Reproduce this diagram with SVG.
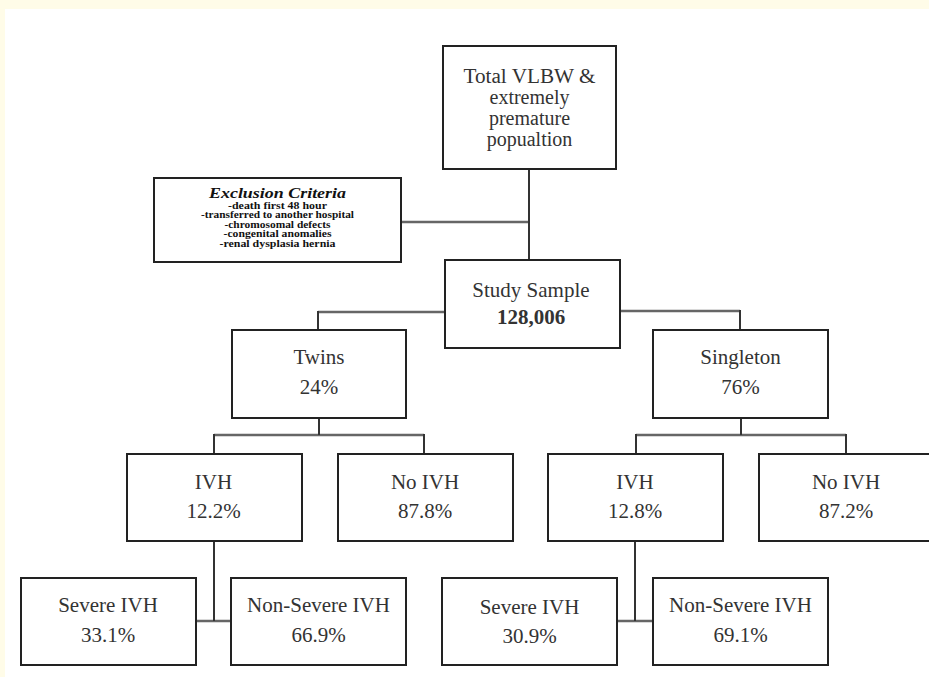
<svg xmlns="http://www.w3.org/2000/svg" width="929" height="677" viewBox="0 0 929 677">
<style>
.box{fill:#fff;stroke:#222;stroke-width:2}
.t{font-size:21px;fill:#333;text-anchor:middle}
.tt{font-size:20px;fill:#333;text-anchor:middle}
.b{font-weight:bold}
.ex{font-weight:bold;font-size:9.5px;fill:#111;text-anchor:middle}
.exh{font-weight:bold;font-style:italic;font-size:15px;fill:#111;text-anchor:middle}
.c{fill:none;stroke:#333;stroke-width:2}
.h{fill:none;stroke:#666;stroke-width:2.5}
</style>
<rect x="0" y="0" width="929" height="677" fill="#fffce8"/>
<rect x="5" y="9" width="924" height="668" fill="#fff"/>
<g id="connectors">
<path class="h" d="M401 222H529M445 312H318M620 311H740M214 435H424M636 435H846M196 621H231M617 621H653"/>
<path class="c" d="M529 169V260M318 311V330M740 310V330M319 418V435M214 434V454M424 434V454M741 418V435M636 434V454M846 434V454M214 541V621M635 541V621"/>
</g>
<g font-family="Liberation Serif, Times New Roman, DejaVu Serif, serif">
<g id="total">
<rect class="box" x="443" y="46" width="173" height="123"/>
<text class="tt" x="529.5" y="83" textLength="132" lengthAdjust="spacingAndGlyphs">Total VLBW &amp;</text>
<text class="tt" x="529.5" y="104">extremely</text>
<text class="tt" x="529.5" y="125">premature</text>
<text class="tt" x="529.5" y="146">popualtion</text>
</g>
<g id="exclusion">
<rect class="box" x="154" y="178" width="247" height="84"/>
<text class="exh" x="277.5" y="198" textLength="137" lengthAdjust="spacingAndGlyphs">Exclusion  Criteria</text>
<text class="ex" x="277.5" y="208.5" textLength="99" lengthAdjust="spacingAndGlyphs">-death first 48 hour</text>
<text class="ex" x="277.5" y="218" textLength="153" lengthAdjust="spacingAndGlyphs">-transferred to another hospital</text>
<text class="ex" x="277.5" y="227.5" textLength="106" lengthAdjust="spacingAndGlyphs">-chromosomal defects</text>
<text class="ex" x="277.5" y="237" textLength="108" lengthAdjust="spacingAndGlyphs">-congenital anomalies</text>
<text class="ex" x="277.5" y="246.5" textLength="116" lengthAdjust="spacingAndGlyphs">-renal dysplasia hernia</text>
</g>
<g id="study">
<rect class="box" x="445" y="260" width="175" height="88"/>
<text class="t" x="531" y="297">Study Sample</text>
<text class="t b" x="531" y="324">128,006</text>
</g>
<g id="twins">
<rect class="box" x="232" y="330" width="174" height="88"/>
<text class="t" x="319" y="364">Twins</text>
<text class="t" x="319" y="394">24%</text>
</g>
<g id="singleton">
<rect class="box" x="653" y="330" width="175" height="88"/>
<text class="t" x="740.5" y="364">Singleton</text>
<text class="t" x="740.5" y="394">76%</text>
</g>
<g id="ivh-twins">
<rect class="box" x="127" y="454" width="175" height="87"/>
<text class="t" x="213.5" y="489">IVH</text>
<text class="t" x="213.5" y="518">12.2%</text>
</g>
<g id="noivh-twins">
<rect class="box" x="338" y="454" width="175" height="87"/>
<text class="t" x="425" y="489">No IVH</text>
<text class="t" x="425" y="518">87.8%</text>
</g>
<g id="ivh-singleton">
<rect class="box" x="548" y="454" width="175" height="87"/>
<text class="t" x="635" y="489">IVH</text>
<text class="t" x="635" y="518">12.8%</text>
</g>
<g id="noivh-singleton">
<rect class="box" x="759" y="454" width="175" height="87"/>
<text class="t" x="846" y="489">No IVH</text>
<text class="t" x="846" y="518">87.2%</text>
</g>
<g id="severe-twins">
<rect class="box" x="21" y="578" width="175" height="87"/>
<text class="t" x="108" y="612">Severe IVH</text>
<text class="t" x="108" y="642">33.1%</text>
</g>
<g id="nonsevere-twins">
<rect class="box" x="231" y="578" width="175" height="87"/>
<text class="t" x="318.5" y="612">Non-Severe IVH</text>
<text class="t" x="318.5" y="642">66.9%</text>
</g>
<g id="severe-singleton">
<rect class="box" x="442" y="578" width="175" height="87"/>
<text class="t" x="529.5" y="614">Severe IVH</text>
<text class="t" x="529.5" y="643">30.9%</text>
</g>
<g id="nonsevere-singleton">
<rect class="box" x="653" y="578" width="175" height="87"/>
<text class="t" x="740.5" y="612">Non-Severe IVH</text>
<text class="t" x="740.5" y="642">69.1%</text>
</g>
</g>
</svg>
